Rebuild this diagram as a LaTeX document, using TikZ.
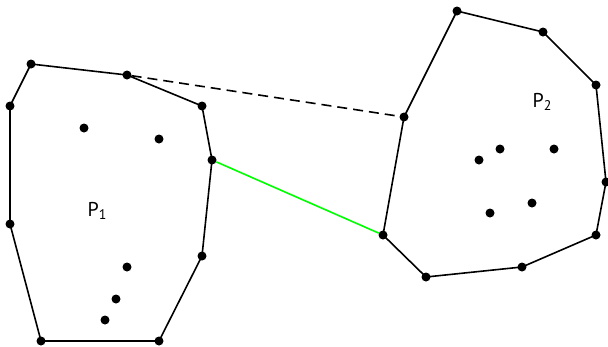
\documentclass[tikz,border=0pt]{standalone}
\usepackage{fontspec}
\setmainfont{PT Sans}
\newcommand{\lblsub}[1]{\raisebox{-0.35ex}{\fontsize{14}{16}\selectfont #1}}
\begin{document}
\begin{tikzpicture}[x=1pt,y=-1pt,
  pt/.style={circle,fill=black,inner sep=0pt,minimum size=9pt},
  hull/.style={line width=1.6pt,black},
  lbl/.style={font=\fontsize{20}{24}\selectfont}]
\useasboundingbox (0,0) rectangle (608,346);
% P1 hull vertices
\node[pt] (a1) at (31,64) {};
\node[pt] (a2) at (127,75) {};
\node[pt] (a3) at (202,106) {};
\node[pt] (a4) at (212,160) {};
\node[pt] (a5) at (202,256) {};
\node[pt] (a6) at (159,341) {};
\node[pt] (a7) at (41,341) {};
\node[pt] (a8) at (10,224) {};
\node[pt] (a9) at (10,106) {};
% P1 interior
\node[pt] (i1) at (84,128) {};
\node[pt] (i2) at (159,139) {};
\node[pt] (i3) at (127,267) {};
\node[pt] (i4) at (116,299) {};
\node[pt] (i5) at (105,320) {};
% P2 hull vertices
\node[pt] (b1) at (457,11) {};
\node[pt] (b2) at (543,32) {};
\node[pt] (b3) at (596,85) {};
\node[pt] (b4) at (606,182) {};
\node[pt] (b5) at (596,235) {};
\node[pt] (b6) at (522,267) {};
\node[pt] (b7) at (426,277) {};
\node[pt] (b8) at (383,235) {};
\node[pt] (b9) at (404,117) {};
% P2 interior
\node[pt] (j1) at (479,160) {};
\node[pt] (j2) at (500,149) {};
\node[pt] (j3) at (554,149) {};
\node[pt] (j4) at (532,203) {};
\node[pt] (j5) at (490,213) {};
% labels
\node[lbl] (l1) at (97,211) {P\lblsub{1}};
\node[lbl] (l2) at (542,102) {P\lblsub{2}};
% edges
\draw[hull] (a1.center) -- (a2.center) -- (a3.center) -- (a4.center) -- (a5.center) -- (a6.center) -- (a7.center) -- (a8.center) -- (a9.center) -- cycle;
\draw[hull] (b1.center) -- (b2.center) -- (b3.center) -- (b4.center) -- (b5.center) -- (b6.center) -- (b7.center) -- (b8.center) -- (b9.center) -- cycle;
\draw[line width=1.6pt,dash pattern=on 10pt off 6pt] (a2) -- (b9);
\draw[line width=1.6pt,green] (a4) -- (b8);
\end{tikzpicture}
\end{document}
